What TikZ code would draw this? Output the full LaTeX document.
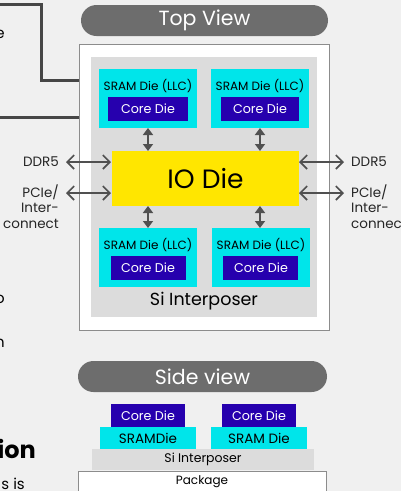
\documentclass[tikz,border=0pt]{standalone}
\usepackage{fontspec}
\setmainfont{Poppins}
\usetikzlibrary{arrows.meta}
\definecolor{bg}{HTML}{F0F0F0}
\definecolor{pill}{HTML}{6D6D6D}
\definecolor{sram}{HTML}{00E5EA}
\definecolor{core}{HTML}{2600AE}
\definecolor{iodie}{HTML}{FFE600}
\definecolor{interp}{HTML}{DCDCDC}
\definecolor{darkline}{HTML}{464646}
\definecolor{arrowc}{HTML}{505050}
\definecolor{boxborder}{HTML}{8C8C8C}
\tikzset{
  px/.style={x=1pt,y=-1pt},
  pillbox/.style={fill=pill, rounded corners=15.5pt, draw=none},
  pilltext/.style={text=white, font=\fontsize{20.5}{24}\selectfont, inner sep=0pt},
  sramtext/.style={font=\fontsize{12}{14}\selectfont, inner sep=0pt, text=black},
  coretext/.style={font=\fontsize{12.7}{15}\selectfont, inner sep=0pt, text=white},
  lbl/.style={font=\fontsize{13.5}{15.5}\selectfont, inner sep=0pt, text=black!85},
  varrow/.style={arrowc, line width=1.6pt, {Triangle[length=7pt,width=10pt]}-{Triangle[length=7pt,width=10pt]}},
  harrow/.style={arrowc, line width=1.6pt, {Straight Barb[length=7pt,width=14pt]}-{Straight Barb[length=7pt,width=14pt]}},
  conn/.style={darkline, line width=3pt},
}
\begin{document}
\begin{tikzpicture}[px]
\useasboundingbox (0,0) rectangle (401,491);
\fill[bg] (0,0) rectangle (401,491);
\clip (0,0) rectangle (401,491);

% left fragments
\node[anchor=base, font=\fontsize{15}{18}\selectfont, inner sep=0pt] (fe) at (0,38) {e};
\node[anchor=base, font=\fontsize{15}{18}\selectfont, inner sep=0pt] (fo) at (0,303) {o};
\node[anchor=base, font=\fontsize{15}{18}\selectfont, inner sep=0pt] (fn) at (0,347) {n};
\node[anchor=base east, font=\bfseries\fontsize{24}{28}\selectfont, inner sep=0pt] (fion) at (36,458) {ion};
\node[anchor=base east, font=\fontsize{15}{18}\selectfont, inner sep=0pt] (fsis) at (25,489) {s is};

% top view pill
\fill[pillbox] (81,5) rectangle (328,36);
\node[pilltext] (topview) at (204.5,20.5) {Top View};

% outer white box
\draw[boxborder, fill=white, line width=1pt] (79,44) rectangle (329,330);
\coordinate (boxA) at (79,80);
\coordinate (boxB) at (79,117);

% connectors from left
\draw[conn] (-2,4) -- (41.5,4) -- (41.5,80) -- (boxA);
\draw[conn] (-2,117) -- (boxB);

% interposer
\fill[interp] (91,57) rectangle (317,317);
\node[font=\fontsize{17.5}{20}\selectfont, inner sep=0pt] (siint) at (204,301) {Si Interposer};

% SRAM top
\fill[sram] (99,69) rectangle (197,128);
\fill[sram] (211,69) rectangle (309,128);
\fill[core] (108,97) rectangle (188,121);
\fill[core] (221,97) rectangle (299,121);
\node[sramtext] (s1) at (148,86) {SRAM Die (LLC)};
\node[sramtext] (s2) at (260,86) {SRAM Die (LLC)};
\node[coretext] (c1) at (148,109) {Core Die};
\node[coretext] (c2) at (260,109) {Core Die};

% IO die
\fill[iodie] (112,151) rectangle (299,206);
\node[font=\fontsize{26.5}{30}\selectfont, inner sep=0pt] (io) at (205.5,178.5) {IO Die};

% SRAM bottom
\fill[sram] (99,228) rectangle (197,287);
\fill[sram] (212,228) rectangle (310,287);
\fill[core] (111,256) rectangle (186,280);
\fill[core] (223,256) rectangle (298,280);
\node[sramtext] (s3) at (148,245) {SRAM Die (LLC)};
\node[sramtext] (s4) at (261,245) {SRAM Die (LLC)};
\node[coretext] (c3) at (148,268) {Core Die};
\node[coretext] (c4) at (261,268) {Core Die};

% vertical arrows
\coordinate (v1a) at (148,128); \coordinate (v1b) at (148,151);
\coordinate (v2a) at (260,128); \coordinate (v2b) at (260,151);
\coordinate (v3a) at (148,206); \coordinate (v3b) at (148,228);
\coordinate (v4a) at (260,206); \coordinate (v4b) at (260,228);
\draw[varrow] (v1a) -- (v1b);
\draw[varrow] (v2a) -- (v2b);
\draw[varrow] (v3a) -- (v3b);
\draw[varrow] (v4a) -- (v4b);

% horizontal arrows
\coordinate (l1) at (66,162); \coordinate (l1e) at (111,162);
\coordinate (l2) at (66,193); \coordinate (l2e) at (111,193);
\coordinate (r1) at (299,162); \coordinate (r1e) at (344,162);
\coordinate (r2) at (299,193); \coordinate (r2e) at (344,193);
\draw[harrow] (l1) -- (l1e);
\draw[harrow] (l2) -- (l2e);
\draw[harrow] (r1) -- (r1e);
\draw[harrow] (r2) -- (r2e);

\node[lbl, anchor=east] (ddrl) at (59,162) {DDR5};
\node[lbl, anchor=north east, align=right] (pcil) at (59,184.5) {PCIe/\\Inter-\\connect};
\node[lbl, anchor=west] (ddrr) at (351,162) {DDR5};
\node[lbl, anchor=north west, align=left] (pcir) at (351,184.5) {PCIe/\\Inter-\\connect};

% side view
\fill[pillbox] (78,361) rectangle (327,392);
\node[pilltext] (sideview) at (202.5,376.5) {Side view};

\fill[core] (111,404) rectangle (185,427);
\fill[core] (222,404) rectangle (296,427);
\node[coretext] (sc1) at (148,415.5) {Core Die};
\node[coretext] (sc2) at (259,415.5) {Core Die};
\fill[sram] (100,427) rectangle (196,449);
\fill[sram] (211,427) rectangle (307,449);
\node[sramtext, font=\fontsize{13.5}{15}\selectfont] (ss1) at (148,438) {SRAMDie};
\node[sramtext, font=\fontsize{13.5}{15}\selectfont] (ss2) at (259,438) {SRAM Die};
\fill[interp] (92,449) rectangle (314,470);
\node[sramtext, font=\fontsize{12.5}{14}\selectfont] (ssi) at (203,459.5) {Si Interposer};
\draw[boxborder, fill=white, line width=1pt] (78,471) rectangle (326,500);
\node[sramtext, font=\fontsize{12}{14}\selectfont] (pkg) at (202,482) {Package};
\end{tikzpicture}
\end{document}
